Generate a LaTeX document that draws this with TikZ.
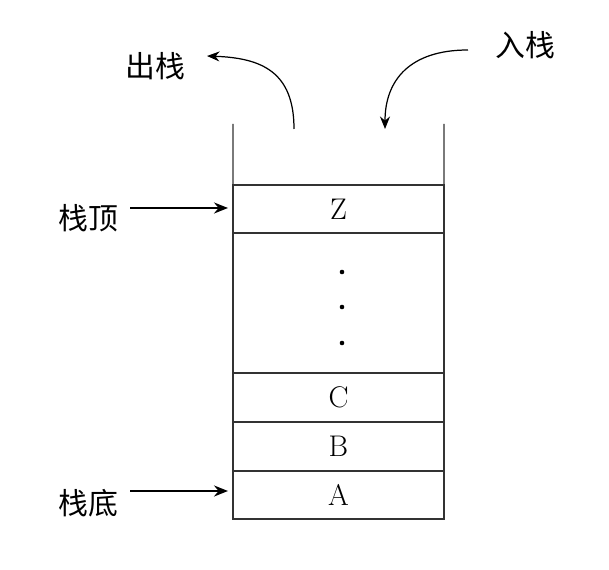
\documentclass[tikz,border=0pt]{standalone}
\usepackage{fontspec}
\newfontfamily\cjk{Noto Sans CJK SC}
\usepackage{tikz}
\usetikzlibrary{arrows.meta, positioning}

\begin{document}
\begin{tikzpicture}[
    x=0.02cm, y=-0.02cm,
    node distance=0cm,
    cell/.style={rectangle, draw=black!80, line width=0.7pt, minimum width=4.22cm,
                 minimum height=0.98cm, inner sep=0pt, outer sep=0pt,
                 font=\fontsize{17}{20}\selectfont},
    label/.style={font=\cjk\fontsize{17}{20}\selectfont},
    arrow/.style={-{Stealth[length=2.8mm, width=2.2mm]}, line width=1.1pt, shorten >=1mm},
    curve/.style={-{Stealth[length=2.5mm, width=2mm]}, line width=0.7pt}
]
\useasboundingbox (0,0) rectangle (609,570);
% stack cells
\node[cell, minimum height=0.96cm] (top) at (338.5,209) {Z};
\node[cell, minimum height=2.8cm, below=of top] (dots) {};
\node[cell, below=of dots] (c) {C};
\node[cell, below=of c] (b) {B};
\node[cell, minimum height=0.96cm, below=of b] (a) {A};
\foreach \y in {272,307,343}
  \fill (342,\y) circle (1.3pt);
% open walls
\coordinate (wl) at (233,124);
\coordinate (wr) at (444,124);
\draw[black!80, line width=0.7pt] (wl) -- (top.north west);
\draw[black!80, line width=0.7pt] (wr) -- (top.north east);

% labels
\node[label] (pop) at (155,66) {出栈};
\node[label] (push) at (525,45) {入栈};
\node[label] (stop) at (88,218) {栈顶};
\node[label] (sbot) at (88,503) {栈底};

\coordinate (popstart) at (294,129);
\coordinate (popend) at (207,56);
\coordinate (pushstart) at (468,50);
\coordinate (pushend) at (385,129);
\draw[curve] (popstart) .. controls (294,72) and (262,58) .. (popend);
\draw[curve] (pushstart) .. controls (410,50) and (385,80) .. (pushend);
\coordinate (topfrom) at (130,208);
\coordinate (botfrom) at (130,491);
\draw[arrow] (topfrom) -- (topfrom -| top.west);
\draw[arrow] (botfrom) -- (botfrom -| a.west);
\end{tikzpicture}
\end{document}
